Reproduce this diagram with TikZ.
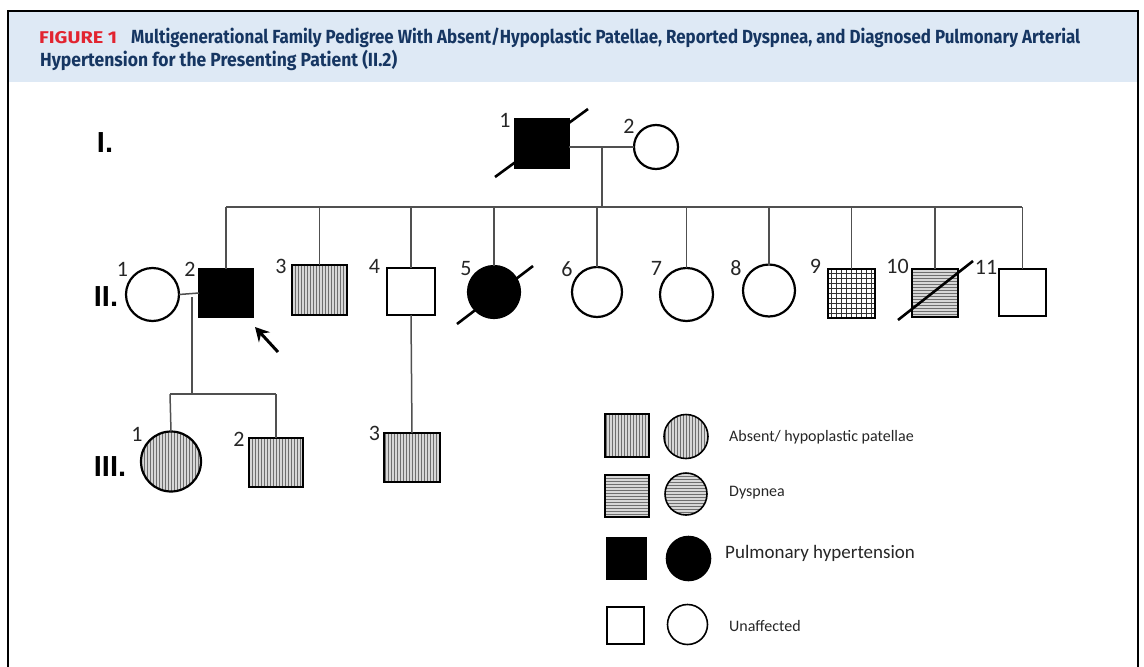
\documentclass[tikz,border=0pt]{standalone}
\usepackage{fontspec}
\usepackage{graphicx}
\setmainfont{Carlito}
\newfontfamily\titlefont{Fira Sans}
\newfontfamily\genfont{Liberation Sans}
\usetikzlibrary{arrows.meta}
\definecolor{hdrbg}{RGB}{222,233,245}
\definecolor{navy}{RGB}{22,54,98}
\definecolor{figred}{RGB}{226,36,48}
\definecolor{connc}{RGB}{80,80,80}
\definecolor{hatchbg}{RGB}{215,215,215}
\definecolor{hatchln}{RGB}{110,110,110}
\begin{document}
\begin{tikzpicture}[x=1pt,y=-1pt,
  pbase/.style={draw=black, line width=2.2pt, inner sep=0pt, outer sep=0pt},
  sq/.style={pbase, rectangle},
  ci/.style={pbase, circle},
  lbase/.style={draw=black, line width=1.6pt, inner sep=0pt, outer sep=0pt},
  lsq/.style={lbase, rectangle},
  lci/.style={lbase, circle},
  aff/.style={fill=black},
  vhatch/.style={fill=hatchbg, path picture={\foreach \i in {-45,-42,...,45}
     \draw[hatchln,line width=0.7pt] ([xshift=\i pt]path picture bounding box.north) -- ([xshift=\i pt]path picture bounding box.south);}},
  hhatch/.style={fill=hatchbg, path picture={\foreach \i in {-45,-42,...,45}
     \draw[hatchln,line width=0.7pt] ([yshift=\i pt]path picture bounding box.west) -- ([yshift=\i pt]path picture bounding box.east);}},
  gridhatch/.style={fill=white, path picture={\foreach \i in {-45,-40,...,45}{
     \draw[black!80,line width=0.7pt] ([yshift=\i pt]path picture bounding box.west) -- ([yshift=\i pt]path picture bounding box.east);
     \draw[black!80,line width=0.7pt] ([xshift=\i pt]path picture bounding box.north) -- ([xshift=\i pt]path picture bounding box.south);}}},
  conn/.style={draw=connc, line width=1.5pt},
  dead/.style={draw=black, line width=2.6pt},
  num/.style={inner sep=0pt, font=\fontsize{22}{22}\selectfont, text=black!85},
  gen/.style={inner sep=0pt, font=\genfont\bfseries\fontsize{29}{29}\selectfont},
  legtext/.style={inner sep=0pt, anchor=west, text=black!85, font=\fontsize{16}{18}\selectfont},
  ttl/.style={inner sep=0pt, anchor=base west}
]
\useasboundingbox (0,0) rectangle (1144,667);
% frame and header
\fill[hdrbg] (9,12) rectangle (1137,82);
\draw[black, line width=2.4pt] (8,667) -- (8,11) -- (1138,11) -- (1138,667);
\node[ttl, text=figred] (fig) at (39,43) {\resizebox{78pt}{\height}{\titlefont\bfseries\fontsize{17}{17}\selectfont FIGURE 1}};
\node[ttl, text=navy] (t1) at (131,43) {\resizebox{949pt}{\height}{\titlefont\bfseries\fontsize{19}{19}\selectfont Multigenerational Family Pedigree With Absent/Hypoplastic Patellae, Reported Dyspnea, and Diagnosed Pulmonary Arterial}};
\node[ttl, text=navy] (t2) at (40,66) {\resizebox{357pt}{\height}{\titlefont\bfseries\fontsize{19}{19}\selectfont Hypertension for the Presenting Patient (II.2)}};

% generation labels
\node[gen] (gI) at (105,143) {I.};
\node[gen] (gII) at (106,297) {II.};
\node[gen] (gIII) at (110,467) {III.};

% generation I
\node[sq, aff, minimum width=54pt, minimum height=49pt] (I1) at (542,143.5) {};
\node[ci, minimum size=44pt] (I2) at (656,147) {};
\draw[dead] (495,177) -- (588,109);
\node[num] (nI1) at (505,120) {1};
\node[num] (nI2) at (629,126) {2};

% generation II
\node[ci, minimum size=53pt] (II1) at (152.5,294.5) {};
\node[sq, aff, minimum width=54pt, minimum height=48pt] (II2) at (226,293) {};
\node[sq, vhatch, minimum width=55pt, minimum height=50pt] (II3) at (319.5,290) {};
\node[sq, minimum width=48pt, minimum height=47pt] (II4) at (411,291.5) {};
\node[ci, aff, minimum size=52pt] (II5) at (494,292) {};
\node[ci, minimum size=50pt] (II6) at (597,292) {};
\node[ci, minimum size=53pt] (II7) at (686.5,294.5) {};
\node[ci, minimum size=52pt] (II8) at (769,290.5) {};
\node[sq, gridhatch, minimum width=47pt, minimum height=49pt] (II9) at (851.5,293.5) {};
\node[sq, hhatch, minimum width=46pt, minimum height=48pt] (II10) at (935,293) {};
\node[sq, minimum width=47pt, minimum height=47pt] (II11) at (1022.5,292.5) {};
\draw[dead] (457,324) -- (533,266);
\draw[dead] (898,320) -- (973,261);

\node[num] (nII1) at (122.5,269) {1};
\node[num] (nII2) at (190,269) {2};
\node[num] (nII3) at (281,266) {3};
\node[num] (nII4) at (374.5,266) {4};
\node[num] (nII5) at (466,269) {5};
\node[num] (nII6) at (567,269) {6};
\node[num] (nII7) at (656.5,268) {7};
\node[num] (nII8) at (736,268) {8};
\node[num] (nII9) at (815.5,266.5) {9};
\node[num] (nII10) at (897.5,266) {10};
\node[num] (nII11) at (986,267) {11};

% generation III
\node[ci, vhatch, minimum size=60pt] (III1) at (171,461.5) {};
\node[sq, vhatch, minimum width=54pt, minimum height=49pt] (III2) at (276,462.5) {};
\node[sq, vhatch, minimum width=56pt, minimum height=49pt] (III3) at (412,457.5) {};
\node[num] (nIII1) at (137,434) {1};
\node[num] (nIII2) at (239,439) {2};
\node[num] (nIII3) at (374.5,433) {3};

% connectors
\coordinate (m1) at (602,147);
\coordinate (d1) at (602,207);
\coordinate (sibL) at (226,207);
\coordinate (sibR) at (1022,207);
\draw[conn] (I1.east |- I2) -- (I2.west);
\draw[conn] (m1) -- (d1);
\draw[conn] (sibL) -- (sibR);
\foreach \n in {II2,II3,II4,II5,II6,II7,II8,II9,II10,II11}
  \draw[conn] (\n |- sibL) -- (\n.north);
\coordinate (m2) at (192,297);
\coordinate (d2) at (192,394);
\coordinate (s3L) at (170,394);
\coordinate (s3R) at (276,394);
\draw[conn] (II1.east) -- (II2.west);
\draw[conn] (m2) -- (d2);
\draw[conn] (s3L) -- (s3R);
\draw[conn] (s3L) -- (III1.north);
\draw[conn] (s3R) -- (III2.north);
\draw[conn] (II4.south) -- (III3.north);

% proband arrow
\coordinate (arS) at (278,352);
\coordinate (arE) at (255,327);
\draw[black, line width=3pt, -{Stealth[length=14pt,width=15pt,inset=5pt]}] (arS) -- (arE);

% legend
\node[lsq, vhatch, minimum width=44pt, minimum height=43pt] (L1s) at (627,435.5) {};
\node[lci, vhatch, minimum size=44pt] (L1c) at (686,436.5) {};
\node[legtext] (L1t) at (729,437) {Absent/ hypoplastic patellae};
\node[lsq, hhatch, minimum width=44pt, minimum height=42pt] (L2s) at (627,496) {};
\node[lci, hhatch, minimum size=42pt] (L2c) at (686,494) {};
\node[legtext] (L2t) at (729,493) {Dyspnea};
\node[lsq, aff, minimum width=40pt, minimum height=42pt] (L3s) at (626.5,558.5) {};
\node[lci, aff, minimum size=44pt] (L3c) at (688.5,558.5) {};
\node[legtext, font=\fontsize{19}{21}\selectfont] (L3t) at (725,553) {Pulmonary hypertension};
\node[lsq, minimum width=37pt, minimum height=37pt] (L4s) at (625.5,625.5) {};
\node[lci, minimum size=40pt] (L4c) at (687.5,624.5) {};
\node[legtext] (L4t) at (729,626) {Unaffected};
\end{tikzpicture}
\end{document}
